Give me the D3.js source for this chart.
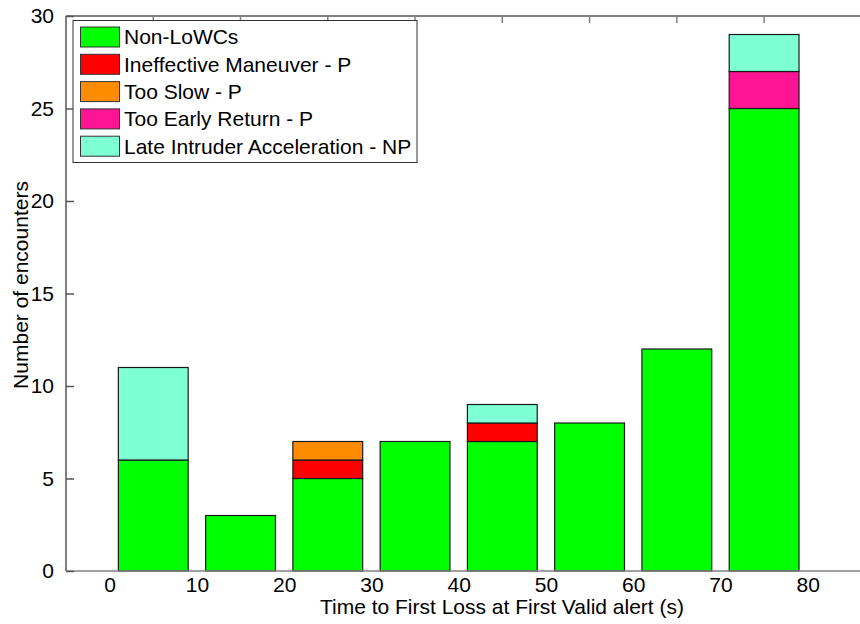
<!DOCTYPE html>
<html><head><meta charset="utf-8">
<script src="https://cdn.jsdelivr.net/npm/d3@7"></script>
<style>body{margin:0;background:#fff}svg{display:block}text{font-family:Arial,"Liberation Sans",sans-serif}</style>
</head><body><svg id="c" width="860" height="624"></svg>
<script>
const binCenters = [5, 15, 25, 35, 45, 55, 65, 75];
const seriesNames = ["Non-LoWCs", "Ineffective Maneuver - P", "Too Slow - P", "Too Early Return - P", "Late Intruder Acceleration - NP"];
const seriesColors = ["#00ff00", "#ff0000", "#ff8c00", "#ff1493", "#7fffd4"];
const nonLoWCs   = [6, 3, 5, 7, 7, 8, 12, 25];
const ineffective = [0, 0, 1, 0, 1, 0, 0, 0];
const tooSlow    = [0, 0, 1, 0, 0, 0, 0, 0];
const tooEarly   = [0, 0, 0, 0, 0, 0, 0, 2];
const lateAccel  = [5, 0, 0, 0, 1, 0, 0, 2];
const xTicks = [0, 10, 20, 30, 40, 50, 60, 70, 80];
const yTicks = [0, 5, 10, 15, 20, 25, 30];

const FS = 21;
const svg = d3.select("#c");
const x = d3.scaleLinear().domain([-5, 90]).range([66, 895]);
const y = d3.scaleLinear().domain([0, 30]).range([571, 16]);
const axisColor = "#808080";

const rows = binCenters.map((c, i) => ({c, v: [nonLoWCs[i], ineffective[i], tooSlow[i], tooEarly[i], lateAccel[i]]}));
const keys = [0,1,2,3,4];
const stack = d3.stack().keys(keys).value((d, k) => d.v[k]);
const layers = stack(rows);
const barW = 8;

layers.forEach((layer, k) => {
  svg.append("g").selectAll("rect").data(layer.filter(d => d[1] > d[0])).join("rect")
    .attr("x", d => x(d.data.c - barW/2))
    .attr("width", d => x(d.data.c + barW/2) - x(d.data.c - barW/2))
    .attr("y", d => y(d[1]))
    .attr("height", d => y(d[0]) - y(d[1]))
    .attr("fill", seriesColors[k])
    .attr("stroke", "#1a1a1a").attr("stroke-width", 1.2);
});

// axes lines
const ax = svg.append("g");
ax.append("line").attr("x1", 66).attr("x2", 860).attr("y1", y(0)).attr("y2", y(0)).attr("stroke", axisColor).attr("stroke-width", 1.5);
ax.append("line").attr("x1", 66).attr("x2", 860).attr("y1", y(30)).attr("y2", y(30)).attr("stroke", axisColor).attr("stroke-width", 2);
ax.append("line").attr("x1", 66).attr("x2", 66).attr("y1", y(0)).attr("y2", y(30)).attr("stroke", axisColor).attr("stroke-width", 2);

// y ticks
const yAxis = d3.axisLeft(y).tickValues(yTicks).tickSize(-8).tickPadding(12);
const gy = svg.append("g").attr("transform", "translate(66,0)").call(yAxis);
gy.select(".domain").remove();
gy.selectAll("line").attr("stroke", "#555").attr("stroke-width", 1.5);
gy.selectAll("text").attr("font-size", FS).attr("fill", "#000").attr("font-family", "Arial, 'Liberation Sans', sans-serif");

// top ticks at bar centers
svg.append("g").selectAll("line").data(binCenters).join("line")
  .attr("x1", d => x(d)).attr("x2", d => x(d)).attr("y1", y(30)).attr("y2", y(30) + 7)
  .attr("stroke", axisColor).attr("stroke-width", 1.5);

// x labels
const xAxis = d3.axisBottom(x).tickValues(xTicks).tickSize(0).tickPadding(6);
const gx = svg.append("g").attr("transform", `translate(0,${y(0)})`).call(xAxis);
gx.select(".domain").remove();
gx.selectAll("text").attr("font-size", FS).attr("fill", "#000").attr("font-family", "Arial, 'Liberation Sans', sans-serif");

svg.append("text").attr("x", 502).attr("y", 614).attr("text-anchor", "middle").attr("font-size", FS)
  .text("Time to First Loss at First Valid alert (s)");
svg.append("text").attr("transform", "translate(28,285) rotate(-90)").attr("text-anchor", "middle").attr("font-size", FS)
  .text("Number of encounters");

// legend
const lg = svg.append("g");
lg.append("rect").attr("x", 73).attr("y", 20.5).attr("width", 344).attr("height", 142)
  .attr("fill", "#fff").attr("stroke", "#333").attr("stroke-width", 1);
seriesNames.forEach((n, i) => {
  const cy = 37 + i * 27.3;
  lg.append("rect").attr("x", 80.5).attr("y", cy - 10).attr("width", 39).attr("height", 20)
    .attr("fill", seriesColors[i]).attr("stroke", "#333").attr("stroke-width", 1);
  lg.append("text").attr("x", 124).attr("y", cy + 7.3).attr("font-size", FS).text(n);
});
</script></body></html>
